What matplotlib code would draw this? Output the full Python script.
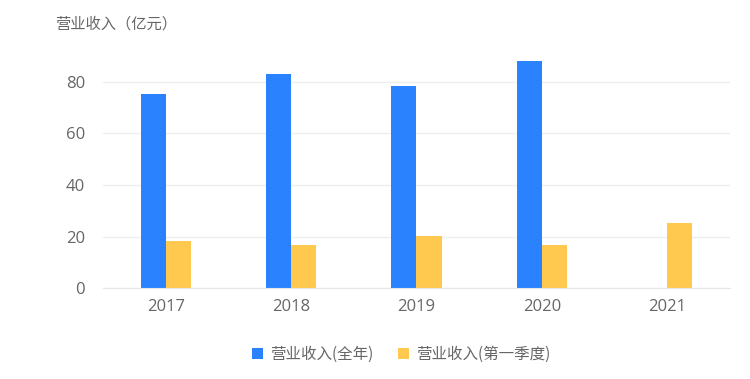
import matplotlib
matplotlib.use("Agg")
import matplotlib.pyplot as plt
import numpy as np
from matplotlib.patches import Patch

plt.rcParams['font.family'] = ['Noto Sans CJK SC', 'DejaVu Sans']

years = ['2017', '2018', '2019', '2020', '2021']
annual = [75.3, 83.1, 78.4, 88.3, np.nan]
q1 = [18.4, 16.8, 20.3, 16.8, 25.2]
series_names = ['营业收入(全年)', '营业收入(第一季度)']
y_ticks = [0, 20, 40, 60, 80]
title = '营业收入（亿元）'

blue = '#2B82FF'
orange = '#FFC94F'
text_c = '#666666'

fig = plt.figure(figsize=(7.5, 3.79), dpi=100)
ax = fig.add_axes([0.1373, 0.240, 0.836, 0.628])

x = np.arange(len(years))
w = 0.2
ax.bar(x - w / 2, annual, width=w, color=blue, zorder=3)
ax.bar(x + w / 2, q1, width=w, color=orange, zorder=3)

ax.set_xlim(-0.5, len(years) - 0.5)
ax.set_ylim(0, 92.4)
ax.set_yticks(y_ticks)
ax.set_xticks(x)
ax.set_xticklabels(years)
ax.tick_params(axis='both', length=0, labelsize=12, colors=text_c)
ax.tick_params(axis='y', pad=13)
ax.tick_params(axis='x', pad=8)
for lab in ax.get_xticklabels() + ax.get_yticklabels():
    lab.set_family(['Open Sans', 'Noto Sans CJK SC'])
ax.yaxis.grid(True, color='#eeeeee', linewidth=1, zorder=0)
for s in ['top', 'right', 'left']:
    ax.spines[s].set_visible(False)
ax.spines['bottom'].set_color('#e6e6e6')
ax.spines['bottom'].set_zorder(4)

fig.text(55 / 750, 1 - 24 / 379, title, fontsize=11, color=text_c, va='center', ha='left')

handles = [Patch(facecolor=blue, edgecolor='none'), Patch(facecolor=orange, edgecolor='none')]
fig.legend(handles, series_names, loc='center', bbox_to_anchor=(401 / 750, 1 - 354 / 379),
           ncol=2, frameon=False, fontsize=11.2, labelcolor=text_c,
           handlelength=0.7, handleheight=0.7, handletextpad=0.45, columnspacing=1.6)

fig.savefig('out.png', dpi=100, facecolor='white')
